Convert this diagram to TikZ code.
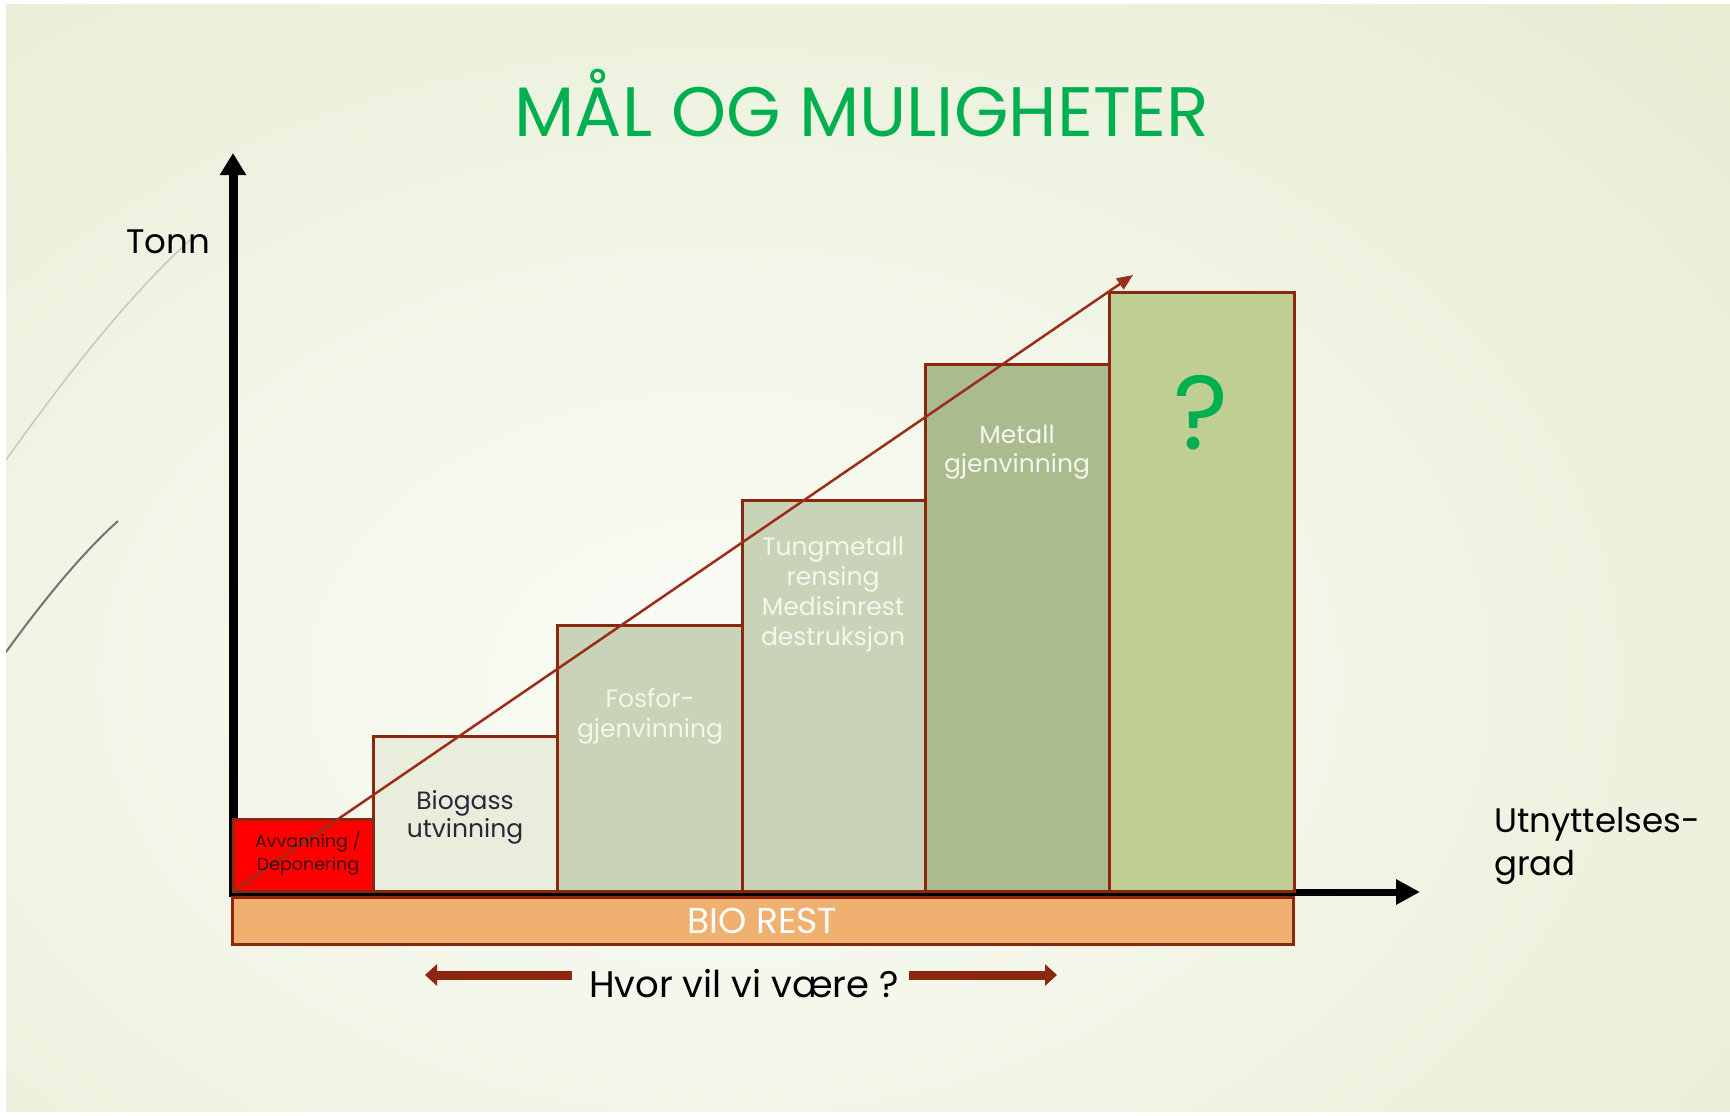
\documentclass[tikz,border=0pt]{standalone}
\usepackage{fontspec}
\setmainfont{Poppins}
\usetikzlibrary{arrows.meta,positioning}
\definecolor{titlegreen}{RGB}{0,176,80}
\definecolor{rust}{RGB}{140,38,14}
\definecolor{trendred}{RGB}{155,45,25}
\definecolor{avvred}{RGB}{255,0,0}
\definecolor{biofill}{RGB}{233,238,220}
\definecolor{fosfill}{RGB}{200,211,183}
\definecolor{metfill}{RGB}{170,187,144}
\definecolor{qfill}{RGB}{191,206,147}
\definecolor{barfill}{RGB}{239,176,112}
\definecolor{darktext}{RGB}{40,40,55}
\definecolor{lighttext}{RGB}{246,246,236}
\definecolor{avvtext}{RGB}{60,10,10}
\definecolor{bgwhite}{RGB}{251,252,247}
\definecolor{bggreen}{RGB}{221,230,194}
\begin{document}
\begin{tikzpicture}[x=1pt,y=-1pt,
    stepbox/.style={draw=rust,line width=3pt,anchor=north west,inner sep=0pt,outer sep=0pt},
    boxlabel/.style={align=center,anchor=base,inner sep=0pt,text=lighttext,font=\fontsize{25}{30}\selectfont},
    axisline/.style={line width=#1,line cap=rect},
    bigtext/.style={inner sep=0pt,text=black,font=\fontsize{34}{43}\selectfont}]
    \useasboundingbox (0,0) rectangle (1730,1116);
    \fill[white] (0,0) rectangle (1730,1116);
    % background
    \begin{scope}
        \clip (6,5) rectangle (1730,1111);
        \shade[inner color=bgwhite,outer color=bggreen] (-1280,-720) rectangle (2720,2080);
        \draw[line width=1.5pt,color=black!22] (6,460) .. controls (70,370) and (130,295) .. (190,240);
        \draw[line width=2pt,color=black!55] (6,652) .. controls (40,605) and (80,555) .. (118,521);
    \end{scope}
    % axes
    \coordinate (orig) at (233,892);
    \coordinate (ytip) at (233,153);
    \coordinate (xtip) at (1420,892);
    \draw[axisline=9pt,-{Triangle[width=25pt,length=22pt]}] (orig) -- (ytip);
    \draw[axisline=7pt,-{Triangle[width=24pt,length=24pt]}] (orig) -- (xtip);
    % steps
    \node[stepbox,fill=avvred,minimum width=140pt,minimum height=72pt] (avv) at (233,819) {};
    \node[stepbox,fill=biofill,minimum width=184pt,minimum height=155pt] (bio) at (373,736) {};
    \node[stepbox,fill=fosfill,minimum width=185pt,minimum height=266pt] (fos) at (557,625) {};
    \node[stepbox,fill=fosfill,minimum width=183pt,minimum height=391pt] (tung) at (742,500) {};
    \node[stepbox,fill=metfill,minimum width=184pt,minimum height=527pt] (met) at (925,364) {};
    \node[stepbox,fill=qfill,minimum width=185pt,minimum height=599pt] (quest) at (1109,292) {};
    \node[stepbox,fill=barfill,minimum width=1061pt,minimum height=47pt] (rest) at (232,897.5) {};
    % trend
    \coordinate (trend) at (1133,275);
    \draw[trendred,line width=2.5pt,-{Triangle[width=13pt,length=16pt]}] (avv.south west) -- (trend);
    % labels (base = last line)
    \node[boxlabel,text=avvtext,font=\fontsize{17.5}{23}\selectfont] (avvtxt) at (308,870) {Avvanning /\\Deponering};
    \node[boxlabel,text=darktext,font=\fontsize{25}{28}\selectfont] (biotxt) at (465,837) {Biogass\\utvinning};
    \node[boxlabel] (fostxt) at (650,737) {Fosfor-\\gjenvinning};
    \node[boxlabel] (tungtxt) at (833,645) {Tungmetall\\rensing\\Medisinrest\\destruksjon};
    \node[boxlabel,font=\fontsize{25}{29}\selectfont] (mettxt) at (1017,472) {Metall\\gjenvinning};
    \node[anchor=base,inner sep=0pt,text=titlegreen,font=\fontsize{105}{105}\selectfont] (qmark) at (1201,449) {?};
    \node[anchor=base,inner sep=0pt,text=white,font=\fontsize{36}{36}\selectfont] (resttxt) at (762.5,933) {BIO REST};
    \node[anchor=base,inner sep=0pt,text=titlegreen,font=\fontsize{70}{70}\selectfont] (title) at (862,136) {MÅL OG MULIGHETER};
    \node[bigtext,anchor=base east] (tonn) at (210,253) {Tonn};
    \node[bigtext,anchor=base west,align=left] (grad) at (1494,875) {Utnyttelses-\\grad};
    \node[anchor=base,inner sep=0pt,text=black,font=\fontsize{37}{37}\selectfont] (hvor) at (744,997) {Hvor vil vi være ?};
    % where to go
    \coordinate (leftend) at (425,975);
    \coordinate (rightend) at (1057,975);
    \draw[rust,line width=9pt,-{Triangle[width=21pt,length=12pt]}] (hvor.west |- leftend) ++(-17,0) -- (leftend);
    \draw[rust,line width=9pt,-{Triangle[width=21pt,length=12pt]}] (hvor.east |- rightend) ++(10,0) -- (rightend);
\end{tikzpicture}
\end{document}
